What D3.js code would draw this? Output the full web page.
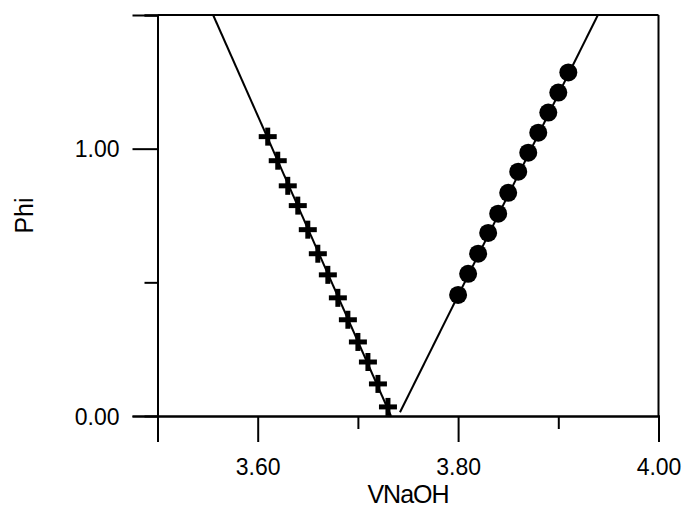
<!DOCTYPE html>
<html>
<head>
<meta charset="utf-8">
<script src="https://cdn.jsdelivr.net/npm/d3@7"></script>
<style>
  html, body { margin: 0; padding: 0; background: #fff; }
  svg { display: block; font-family: "Liberation Sans", Arial, sans-serif; }
</style>
</head>
<body>
<svg id="chart" width="685" height="508"></svg>
<script>
// ---- data ----
const crossX = [3.61, 3.62, 3.63, 3.64, 3.65, 3.66, 3.67, 3.68, 3.69, 3.70, 3.71, 3.72, 3.73];
const crossY = [1.045, 0.955, 0.861, 0.787, 0.697, 0.607, 0.528, 0.442, 0.360, 0.277, 0.202, 0.120, 0.034];
const circleX = [3.80, 3.81, 3.82, 3.83, 3.84, 3.85, 3.86, 3.87, 3.88, 3.89, 3.90, 3.91];
const circleY = [0.453, 0.532, 0.607, 0.685, 0.757, 0.835, 0.914, 0.985, 1.060, 1.135, 1.210, 1.285];
const leftFitX = [3.5555, 3.733];
const leftFitY = [1.5, 0.0];
const rightFitX = [3.742, 3.9395];
const rightFitY = [0.014, 1.5];
const xMajorTicks = [3.60, 3.80, 4.00];
const xMinorTicks = [3.50, 3.70, 3.90];
const yMajorTicks = [0.00, 1.00];
const yMinorTicks = [0.50, 1.50];
const xTitle = "VNaOH";
const yTitle = "Phi";

// ---- scales ----
const svg = d3.select("#chart");
const x = d3.scaleLinear().domain([3.5, 4.0]).range([157.5, 658.5]);
const y = d3.scaleLinear().domain([0, 1.5]).range([416, 15]);
const fmt = d3.format(".2f");
const SW = 2;

// frame: top and right lines
svg.append("line").attr("x1", x(3.5)).attr("x2", x(4.0)).attr("y1", y(1.5)).attr("y2", y(1.5))
  .attr("stroke", "#000").attr("stroke-width", SW);
svg.append("line").attr("x1", x(4.0)).attr("x2", x(4.0)).attr("y1", y(1.5)).attr("y2", y(0))
  .attr("stroke", "#000").attr("stroke-width", SW);

// y axis
const gyMaj = svg.append("g").attr("transform", `translate(${x(3.5)},0)`)
  .call(d3.axisLeft(y).tickValues(yMajorTicks).tickSize(25).tickPadding(13).tickFormat(fmt));
const gyMin = svg.append("g").attr("transform", `translate(${x(3.5)},0)`)
  .call(d3.axisLeft(y).tickValues(yMinorTicks).tickSize(13).tickFormat(""));
// x axis
const gxMaj = svg.append("g").attr("transform", `translate(0,${y(0)})`)
  .call(d3.axisBottom(x).tickValues(xMajorTicks).tickSize(26).tickPadding(17).tickFormat(fmt));
const gxMin = svg.append("g").attr("transform", `translate(0,${y(0)})`)
  .call(d3.axisBottom(x).tickValues(xMinorTicks).tickSize(13).tickFormat(""));

[gyMaj, gyMin, gxMaj, gxMin].forEach(g => {
  g.selectAll("path.domain").attr("stroke", "#000").attr("stroke-width", SW);
  g.selectAll(".tick line").attr("stroke", "#000").attr("stroke-width", SW);
  g.selectAll(".tick text").attr("fill", "#000").style("font-size", "23px")
    .style("font-family", "'Liberation Sans', Arial, sans-serif");
});
gyMaj.selectAll(".tick text").attr("dy", "0.36em");

// fit lines
const line = d3.line().x(d => x(d[0])).y(d => y(d[1]));
svg.append("path").datum(leftFitX.map((v, i) => [v, leftFitY[i]]))
  .attr("d", line).attr("fill", "none").attr("stroke", "#000").attr("stroke-width", 2);
svg.append("path").datum(rightFitX.map((v, i) => [v, rightFitY[i]]))
  .attr("d", line).attr("fill", "none").attr("stroke", "#000").attr("stroke-width", 2);

// crosses
const crossData = crossX.map((v, i) => [v, crossY[i]]);
const arm = 9;
const cg = svg.append("g");
crossData.forEach(d => {
  const cx = x(d[0]), cy = y(d[1]);
  cg.append("line").attr("x1", cx - arm).attr("x2", cx + arm).attr("y1", cy).attr("y2", cy)
    .attr("stroke", "#000").attr("stroke-width", 5);
  cg.append("line").attr("x1", cx).attr("x2", cx).attr("y1", cy - arm).attr("y2", cy + arm)
    .attr("stroke", "#000").attr("stroke-width", 5);
});

// circles
svg.append("g").selectAll("circle")
  .data(circleX.map((v, i) => [v, circleY[i]]))
  .join("circle")
  .attr("cx", d => x(d[0])).attr("cy", d => y(d[1])).attr("r", 9).attr("fill", "#000");

// titles
svg.append("text").attr("x", (x(3.5) + x(4.0)) / 2).attr("y", 503)
  .attr("text-anchor", "middle").style("font-size", "25px").style("letter-spacing", "-1px")
  .text(xTitle);
svg.append("text").attr("transform", `translate(33,${(y(0) + y(1.5)) / 2}) rotate(-90)`)
  .attr("text-anchor", "middle").style("font-size", "25px")
  .text(yTitle);
</script>
</body>
</html>
